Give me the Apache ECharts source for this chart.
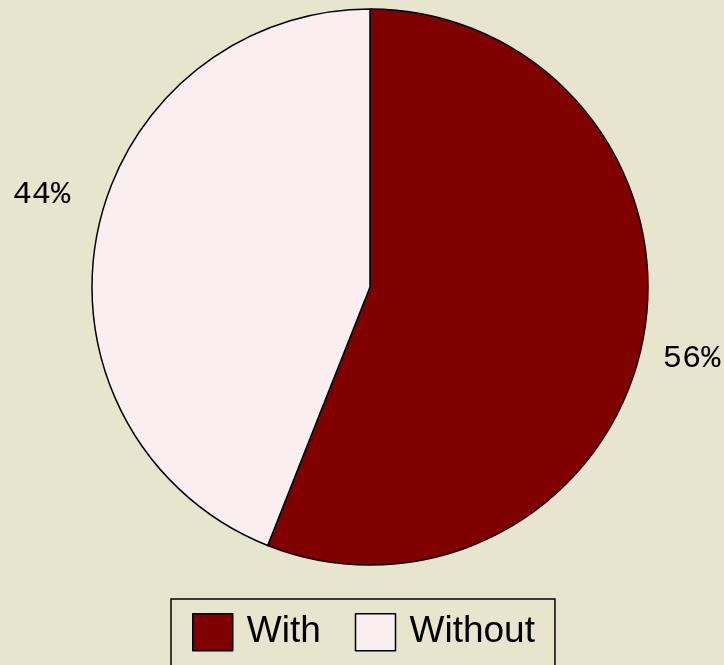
<!DOCTYPE html>
<html><head><meta charset="utf-8">
<script src="https://cdn.jsdelivr.net/npm/echarts@6/dist/echarts.min.js"></script>
<style>html,body{margin:0;padding:0;background:#e8e5cf}#c{width:724px;height:665px}</style>
</head><body><div id="c"></div>
<script>
const categories = ['With', 'Without'];
const values = [56, 44];
const colors = ['#800000', '#fbeef0'];
const labelShift = [[-3, 16], [-4, -37]];

const chart = echarts.init(document.getElementById('c'));
chart.setOption({
  backgroundColor: '#e8e5cf',
  animation: false,
  legend: {
    left: 171, top: 599,
    orient: 'horizontal',
    data: categories,
    itemWidth: 40, itemHeight: 37, itemGap: 34,
    padding: [14, 20, 20, 21],
    borderColor: '#000', borderWidth: 1.5,
    icon: 'rect',
    itemStyle: { borderColor: '#000', borderWidth: 1.5 },
    textStyle: { fontFamily: 'Liberation Sans', fontSize: 37, color: '#000', padding: [0, 0, 0, 9] }
  },
  series: [{
    type: 'pie',
    center: [370, 287],
    radius: 278,
    startAngle: 90,
    clockwise: true,
    data: categories.map((c, i) => ({ name: c, value: values[i], itemStyle: { color: colors[i] } })),
    itemStyle: { borderColor: '#000', borderWidth: 1.5 },
    label: {
      show: true, position: 'outside',
      formatter: p => p.value + '%',
      overflow: 'none',
      fontFamily: 'Liberation Mono', fontSize: 32, color: '#000'
    },
    labelLine: { show: false, length: 18, length2: 0 },
    labelLayout: p => ({ dx: labelShift[p.dataIndex][0], dy: labelShift[p.dataIndex][1] }),
    emphasis: { disabled: true }
  }]
});
</script></body></html>
